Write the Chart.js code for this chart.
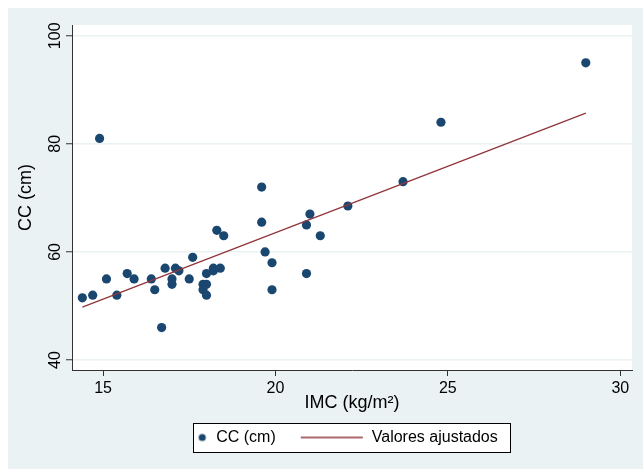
<!DOCTYPE html>
<html lang="es">
<head>
    <meta charset="UTF-8">
    <title>CC vs IMC</title>
    <script src="https://cdn.jsdelivr.net/npm/chart.js"></script>
    <style>
        body { margin: 0; background: #fff; }
    </style>
</head>
<body>
    <canvas id="chart" width="643" height="469"></canvas>
    <script>
        // IMC (kg/m2) and CC (cm) for each subject
        const imc = [14.4, 14.7, 14.9, 15.1, 15.4, 15.7, 15.9, 16.4, 16.5, 16.7,
                     16.8, 17.0, 17.0, 17.1, 17.2, 17.5, 17.6, 17.9, 17.9, 18.0,
                     18.0, 18.0, 18.2, 18.2, 18.3, 18.4, 18.5, 19.6, 19.6, 19.7,
                     19.9, 19.9, 20.9, 20.9, 21.0, 21.3, 22.1, 23.7, 24.8, 29.0];
        const cc = [51.5, 52, 81, 55, 52, 56, 55, 55, 53, 46,
                    57, 55, 54, 57, 56.5, 55, 59, 54, 53, 54,
                    52, 56, 57, 56.5, 64, 57, 63, 65.5, 72, 60,
                    58, 53, 65, 56, 67, 63, 68.5, 73, 84, 95];

        // fitted line end points
        const fitX = [14.4, 29.0];
        const fitY = [49.8, 85.7];

        const xTicks = [15, 20, 25, 30];
        const yTicks = [40, 60, 80, 100];

        const navy = '#1a476f';
        const maroon = '#90353b';
        const bg = '#eaf2f3';
        const font = '"Liberation Sans", Arial, Helvetica, sans-serif';
        const boxW = 66;

        // legend markers as little canvases
        const dotImg = document.createElement('canvas');
        dotImg.width = boxW; dotImg.height = 10;
        let c = dotImg.getContext('2d');
        c.fillStyle = navy;
        c.beginPath(); c.arc(boxW - 6, 5, 3.6, 0, Math.PI * 2); c.fill();

        const lineImg = document.createElement('canvas');
        lineImg.width = boxW; lineImg.height = 10;
        c = lineImg.getContext('2d');
        c.strokeStyle = maroon; c.lineWidth = 1.3;
        c.beginPath(); c.moveTo(3, 5); c.lineTo(65, 5); c.stroke();

        const pts = imc.map((v, i) => ({ x: v, y: cc[i] }));
        const fit = fitX.map((v, i) => ({ x: v, y: fitY[i] }));

        const background = {
            id: 'background',
            beforeDraw(chart) {
                const ctx = chart.ctx;
                const a = chart.chartArea;
                ctx.save();
                ctx.fillStyle = '#fff';
                ctx.fillRect(0, 0, chart.width, chart.height);
                ctx.fillStyle = bg;
                ctx.fillRect(8, 8, chart.width - 8, chart.height - 8);
                ctx.fillStyle = '#fff';
                ctx.fillRect(a.left, a.top, a.right - a.left, a.bottom - a.top);
                // box round the legend
                const hb = chart.legend.legendHitBoxes;
                if (hb && hb.length === 2) {
                    const l = hb[0].left + boxW - 15;
                    const r = hb[1].left + hb[1].width + 12;
                    const t = hb[0].top - 6.5;
                    const b = hb[0].top + 16 + 6.5;
                    ctx.fillRect(l, t, r - l, b - t);
                    ctx.strokeStyle = '#000';
                    ctx.lineWidth = 1;
                    ctx.strokeRect(Math.round(l) + 0.5, Math.round(t) + 0.5, Math.round(r - l), Math.round(b - t));
                }
                ctx.restore();
            }
        };

        Chart.defaults.font.family = font;
        Chart.defaults.color = '#000';

        new Chart(document.getElementById('chart'), {
            data: {
                datasets: [
                    {
                        type: 'scatter',
                        label: 'CC (cm)',
                        data: pts,
                        backgroundColor: navy,
                        borderWidth: 0,
                        pointRadius: 4.6,
                        order: 2
                    },
                    {
                        type: 'line',
                        label: 'Valores ajustados',
                        data: fit,
                        borderColor: maroon,
                        borderWidth: 1.3,
                        pointRadius: 0,
                        fill: false,
                        order: 1
                    }
                ]
            },
            options: {
                responsive: false,
                animation: false,
                layout: { padding: { left: 8, right: 11, top: 25, bottom: 13.5 } },
                plugins: {
                    tooltip: { enabled: false },
                    legend: {
                        position: 'bottom',
                        labels: {
                            usePointStyle: true,
                            pointStyleWidth: boxW,
                            boxHeight: 10,
                            padding: 22,
                            font: { size: 16 },
                            color: '#000',
                            generateLabels() {
                                return [
                                    { text: 'CC (cm)', pointStyle: dotImg, fillStyle: navy, strokeStyle: navy, lineWidth: 0, hidden: false, datasetIndex: 0 },
                                    { text: 'Valores ajustados', pointStyle: lineImg, fillStyle: maroon, strokeStyle: maroon, lineWidth: 0, hidden: false, datasetIndex: 1 }
                                ];
                            }
                        }
                    }
                },
                scales: {
                    x: {
                        type: 'linear',
                        min: 14.1,
                        max: 30.34,
                        afterBuildTicks(s) { s.ticks = xTicks.map(v => ({ value: v })); },
                        afterFit(s) { s.height = 37.5; },
                        grid: { drawOnChartArea: false, tickLength: 6, tickColor: '#333', tickWidth: 1 },
                        border: { color: '#333', width: 1 },
                        ticks: { padding: 3, font: { size: 16 }, color: '#000', maxRotation: 0 },
                        title: { display: true, text: 'IMC (kg/m²)', font: { size: 18 }, padding: { top: 0, bottom: -6 } }
                    },
                    y: {
                        type: 'linear',
                        min: 38.15,
                        max: 102,
                        afterBuildTicks(s) { s.ticks = yTicks.map(v => ({ value: v })); },
                        afterFit(s) { s.width = 64; },
                        grid: { color: bg, lineWidth: 1.5, tickLength: 6, tickColor: '#333', tickWidth: 1 },
                        border: { color: '#333', width: 1 },
                        ticks: { padding: -3, font: { size: 16 }, color: '#000', minRotation: 90, maxRotation: 90, crossAlign: 'center' },
                        title: { display: true, text: 'CC (cm)', font: { size: 18 }, padding: { top: 7, bottom: 0 } }
                    }
                }
            },
            plugins: [background]
        });
    </script>
</body>
</html>
